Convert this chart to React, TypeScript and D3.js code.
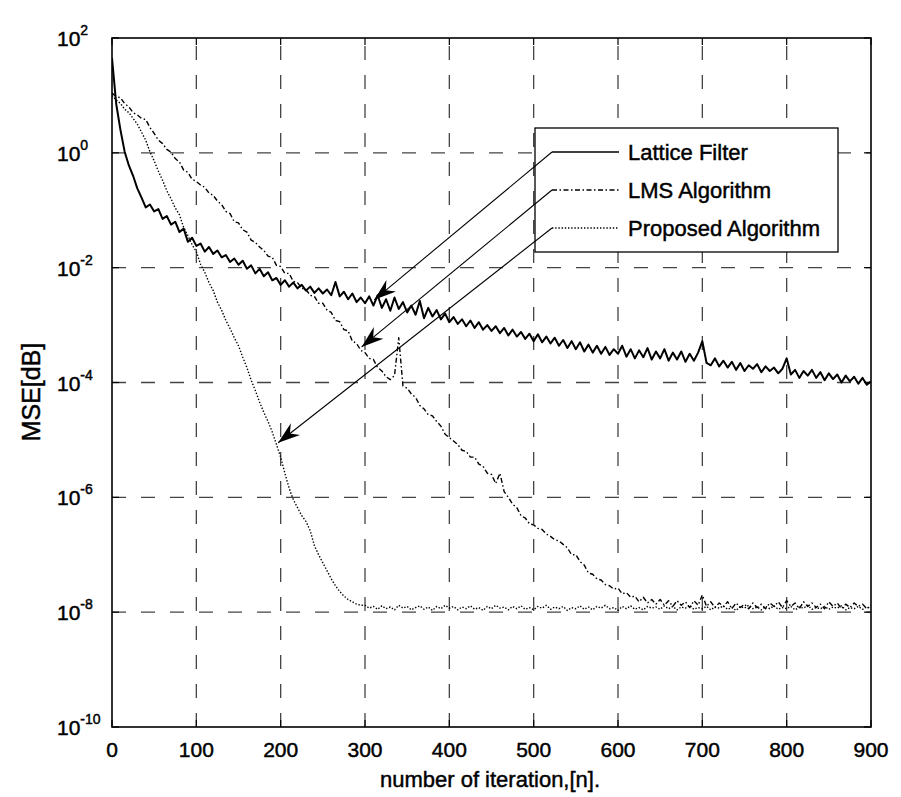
import React from 'react';
import * as d3 from 'd3';

// iteration spacing of the sampled values below
const ITER_STEP = 5;

// log10(MSE), one value every ITER_STEP iterations (n = 0..900)
const latticeExp = [
  1.65, 0.85, 0.40, 0.02, -0.22, -0.40, -0.62, -0.78, -0.95, -0.90,
  -1.02, -0.98, -1.15, -1.10, -1.25, -1.20, -1.38, -1.32, -1.55, -1.48,
  -1.62, -1.58, -1.72, -1.64, -1.76, -1.70, -1.82, -1.78, -1.90, -1.84,
  -1.95, -1.88, -2.02, -1.96, -2.10, -2.02, -2.15, -2.08, -2.22, -2.18,
  -2.30, -2.22, -2.33, -2.26, -2.36, -2.30, -2.40, -2.33, -2.44, -2.36,
  -2.45, -2.38, -2.48, -2.25, -2.50, -2.42, -2.55, -2.45, -2.60, -2.52,
  -2.62, -2.50, -2.66, -2.48, -2.70, -2.55, -2.75, -2.52, -2.72, -2.60,
  -2.78, -2.66, -2.82, -2.58, -2.88, -2.70, -2.85, -2.74, -2.90, -2.80,
  -2.95, -2.86, -2.98, -2.90, -3.02, -2.92, -3.05, -2.95, -3.08, -3.00,
  -3.10, -3.02, -3.14, -3.05, -3.18, -3.08, -3.20, -3.12, -3.24, -3.15,
  -3.28, -3.16, -3.30, -3.20, -3.32, -3.22, -3.36, -3.26, -3.40, -3.28,
  -3.42, -3.30, -3.46, -3.34, -3.48, -3.36, -3.50, -3.38, -3.52, -3.42,
  -3.50, -3.36, -3.55, -3.42, -3.58, -3.44, -3.56, -3.40, -3.60, -3.46,
  -3.58, -3.42, -3.62, -3.48, -3.60, -3.46, -3.64, -3.50, -3.62, -3.48,
  -3.28, -3.66, -3.70, -3.58, -3.72, -3.62, -3.74, -3.64, -3.78, -3.66,
  -3.80, -3.70, -3.76, -3.68, -3.82, -3.72, -3.80, -3.74, -3.84, -3.76,
  -3.58, -3.86, -3.78, -3.92, -3.80, -3.88, -3.78, -3.92, -3.82, -3.96,
  -3.84, -3.94, -3.86, -4.00, -3.88, -3.98, -3.90, -4.02, -3.92, -4.04,
  -3.98,
];

const lmsExp = [
  1.04, 0.98, 0.96, 0.86, 0.80, 0.70, 0.66, 0.60, 0.58, 0.44,
  0.34, 0.22, 0.16, 0.06, 0.01, -0.10, -0.16, -0.30, -0.34, -0.46,
  -0.50, -0.56, -0.60, -0.70, -0.74, -0.84, -0.90, -1.02, -1.06, -1.20,
  -1.22, -1.34, -1.38, -1.52, -1.56, -1.64, -1.70, -1.80, -1.82, -1.96,
  -1.98, -2.10, -2.10, -2.24, -2.26, -2.36, -2.38, -2.48, -2.50, -2.62,
  -2.62, -2.74, -2.78, -2.92, -2.94, -3.08, -3.10, -3.28, -3.32, -3.44,
  -3.48, -3.58, -3.60, -3.74, -3.80, -3.90, -3.95, -3.88, -3.22, -4.06,
  -4.10, -4.20, -4.26, -4.40, -4.46, -4.56, -4.58, -4.68, -4.76, -4.90,
  -4.96, -5.02, -5.08, -5.18, -5.20, -5.30, -5.30, -5.42, -5.46, -5.58,
  -5.60, -5.76, -5.58, -5.90, -6.00, -6.12, -6.18, -6.32, -6.36, -6.46,
  -6.48, -6.54, -6.56, -6.64, -6.68, -6.74, -6.76, -6.82, -6.88, -7.00,
  -7.00, -7.12, -7.18, -7.32, -7.34, -7.42, -7.44, -7.52, -7.54, -7.60,
  -7.58, -7.68, -7.66, -7.74, -7.72, -7.82, -7.74, -7.84, -7.78, -7.86,
  -7.78, -7.88, -7.80, -7.90, -7.80, -7.88, -7.82, -7.92, -7.80, -7.88,
  -7.70, -7.90, -7.82, -7.92, -7.84, -7.90, -7.82, -7.94, -7.84, -7.92,
  -7.86, -7.94, -7.84, -7.92, -7.86, -7.94, -7.84, -7.90, -7.82, -7.92,
  -7.80, -7.90, -7.84, -7.94, -7.82, -7.90, -7.84, -7.92, -7.86, -7.94,
  -7.82, -7.90, -7.84, -7.94, -7.86, -7.92, -7.84, -7.90, -7.86, -7.94,
  -7.88,
];

const proposedExp = [
  1.00, 0.92, 0.86, 0.76, 0.70, 0.60, 0.50, 0.36, 0.22, 0.02,
  -0.14, -0.32, -0.48, -0.66, -0.80, -0.96, -1.08, -1.30, -1.44, -1.60,
  -1.72, -1.94, -2.08, -2.26, -2.40, -2.60, -2.74, -2.92, -3.06, -3.22,
  -3.36, -3.56, -3.74, -3.96, -4.14, -4.34, -4.52, -4.68, -4.86, -5.08,
  -5.30, -5.58, -5.84, -6.04, -6.18, -6.32, -6.42, -6.58, -6.84, -7.00,
  -7.14, -7.28, -7.42, -7.54, -7.64, -7.72, -7.78, -7.82, -7.86, -7.88,
  -7.88, -7.93, -7.90, -7.95, -7.89, -7.94, -7.91, -7.96, -7.88, -7.93,
  -7.90, -7.96, -7.92, -7.89, -7.95, -7.91, -7.97, -7.90, -7.94, -7.88,
  -7.93, -7.90, -7.96, -7.91, -7.94, -7.89, -7.95, -7.92, -7.97, -7.90,
  -7.94, -7.88, -7.93, -7.91, -7.96, -7.90, -7.94, -7.89, -7.95, -7.92,
  -7.96, -7.90, -7.93, -7.88, -7.95, -7.91, -7.94, -7.90, -7.97, -7.92,
  -7.94, -7.89, -7.95, -7.91, -7.96, -7.90, -7.93, -7.88, -7.94, -7.92,
  -7.97, -7.90, -7.94, -7.89, -7.95, -7.92, -7.96, -7.90, -7.93, -7.91,
  -7.95, -7.89, -7.94, -7.90, -7.96, -7.91, -7.93, -7.88, -7.95, -7.92,
  -7.94, -7.90, -7.96, -7.91, -7.93, -7.89, -7.95, -7.92, -7.97, -7.90,
  -7.93, -7.88, -7.94, -7.91, -7.96, -7.90, -7.94, -7.89, -7.95, -7.92,
  -7.94, -7.90, -7.96, -7.91, -7.93, -7.88, -7.95, -7.92, -7.94, -7.90,
  -7.95, -7.91, -7.93, -7.89, -7.96, -7.92, -7.94, -7.90, -7.95, -7.91,
  -7.93,
];

const seriesNames = ['Lattice Filter', 'LMS Algorithm', 'Proposed Algorithm'];
// arrow targets (iteration, log10 MSE) pointed to from each legend entry
const arrowTargetN = [311, 296, 197];
const arrowTargetExp = [-2.56, -3.38, -5.05];

const xTicks = [0, 100, 200, 300, 400, 500, 600, 700, 800, 900];
const yTickExps = [2, 0, -2, -4, -6, -8, -10];

const FONT = '"Liberation Sans", Arial, Helvetica, sans-serif';
const W = 901;
const H = 797;

export default function App() {
  const plotL = 112, plotR = 871, plotT = 38, plotB = 727;
  const x = d3.scaleLinear().domain([0, 900]).range([plotL, plotR]);
  const y = d3.scaleLog().domain([1e-10, 1e2]).range([plotB, plotT]);

  const mk = (arr: number[]) =>
    d3.line<number>()
      .x((_, i) => x(i * ITER_STEP))
      .y((e) => y(Math.pow(10, e)))(arr) || '';

  const styles = [
    { dash: undefined as string | undefined, w: 2.0 },
    { dash: '5 2.5 1.5 2.5', w: 1.4 },
    { dash: '1.4 1.8', w: 1.4 },
  ];
  const paths = [mk(latticeExp), mk(lmsExp), mk(proposedExp)];

  // legend layout
  const lgX = 535, lgY = 128, lgW = 303, lgH = 124;
  const rowY = [152, 190, 228];
  const sampleX0 = 552, sampleX1 = 619, textX = 628;

  const arrowHead = (x0: number, y0: number, x1: number, y1: number) => {
    const ang = Math.atan2(y1 - y0, x1 - x0);
    const L = 22, Wd = 7.5, notch = 15;
    const pts: [number, number][] = [
      [0, 0], [-L, Wd], [-notch, 0], [-L, -Wd],
    ];
    const c = Math.cos(ang), s = Math.sin(ang);
    return pts.map(([px, py]) => [x1 + px * c - py * s, y1 + px * s + py * c].join(',')).join(' ');
  };

  const textStroke = { stroke: '#000', strokeWidth: 0.45 };

  return (
    <div style={{ position: 'absolute', left: 0, top: 0 }}>
      <svg width={W} height={H} style={{ display: 'block', background: '#fff' }} fontFamily={FONT}>
        <defs>
          <clipPath id="plotclip">
            <rect x={plotL} y={plotT - 2} width={plotR - plotL} height={plotB - plotT + 2} />
          </clipPath>
        </defs>
        <rect x={0} y={0} width={W} height={H} fill="#fff" />

        {/* grid */}
        <g stroke="#444" strokeWidth={1.3} strokeDasharray="14 15" fill="none">
          {xTicks.slice(1, -1).map((t) => (
            <line key={'gx' + t} x1={x(t)} x2={x(t)} y1={plotB} y2={plotT} />
          ))}
          {yTickExps.slice(1, -1).map((e) => (
            <line key={'gy' + e} x1={plotL} x2={plotR} y1={y(Math.pow(10, e))} y2={y(Math.pow(10, e))} />
          ))}
        </g>

        {/* series */}
        <g clipPath="url(#plotclip)" fill="none" stroke="#000" strokeLinejoin="round">
          {paths.map((d, i) => (
            <path key={i} d={d} strokeWidth={styles[i].w} strokeDasharray={styles[i].dash} />
          ))}
        </g>

        {/* axes box */}
        <rect x={plotL} y={plotT} width={plotR - plotL} height={plotB - plotT} fill="none" stroke="#000" strokeWidth={1.6} />
        {/* small inner ticks */}
        <g stroke="#000" strokeWidth={1.2}>
          {xTicks.map((t) => (
            <g key={'tx' + t}>
              <line x1={x(t)} x2={x(t)} y1={plotB} y2={plotB - 7} />
              <line x1={x(t)} x2={x(t)} y1={plotT} y2={plotT + 7} />
            </g>
          ))}
          {yTickExps.map((e) => (
            <g key={'ty' + e}>
              <line x1={plotL} x2={plotL + 7} y1={y(Math.pow(10, e))} y2={y(Math.pow(10, e))} />
              <line x1={plotR} x2={plotR - 7} y1={y(Math.pow(10, e))} y2={y(Math.pow(10, e))} />
            </g>
          ))}
        </g>

        {/* x tick labels */}
        <g fontSize={21} textAnchor="middle" fill="#000" {...textStroke}>
          {xTicks.map((t) => (
            <text key={'lx' + t} x={x(t)} y={757}>{t}</text>
          ))}
        </g>
        {/* y tick labels */}
        <g fill="#000" {...textStroke}>
          {yTickExps.map((e) => (
            <text key={'ly' + e} x={57} y={y(Math.pow(10, e)) + 8} fontSize={21}>
              10
              <tspan dy={-11} fontSize={14}>{e}</tspan>
            </text>
          ))}
        </g>

        {/* axis titles */}
        <text x={490} y={787} textAnchor="middle" fontSize={22} fill="#000" {...textStroke}>number of iteration,[n].</text>
        <text transform="translate(40,392) rotate(-90)" textAnchor="middle" fontSize={25} fill="#000" {...textStroke}>MSE[dB]</text>

        {/* legend */}
        <rect x={lgX} y={lgY} width={lgW} height={lgH} fill="#fff" stroke="#000" strokeWidth={1.3} />
        {seriesNames.map((name, i) => (
          <g key={'lg' + i}>
            <line x1={sampleX0} x2={sampleX1} y1={rowY[i]} y2={rowY[i]} stroke="#000"
              strokeWidth={i === 0 ? 1.4 : styles[i].w} strokeDasharray={styles[i].dash} />
            <text x={textX} y={rowY[i] + 8} fontSize={22} fill="#000" {...textStroke}>{name}</text>
          </g>
        ))}

        {/* arrows from legend entries to curves */}
        {seriesNames.map((_, i) => {
          const tx = x(arrowTargetN[i]);
          const ty = y(Math.pow(10, arrowTargetExp[i]));
          return (
            <g key={'ar' + i}>
              <line x1={sampleX0} y1={rowY[i]} x2={tx} y2={ty} stroke="#000" strokeWidth={1.1} />
              <polygon points={arrowHead(sampleX0, rowY[i], tx, ty)} fill="#000" />
            </g>
          );
        })}
      </svg>
    </div>
  );
}
